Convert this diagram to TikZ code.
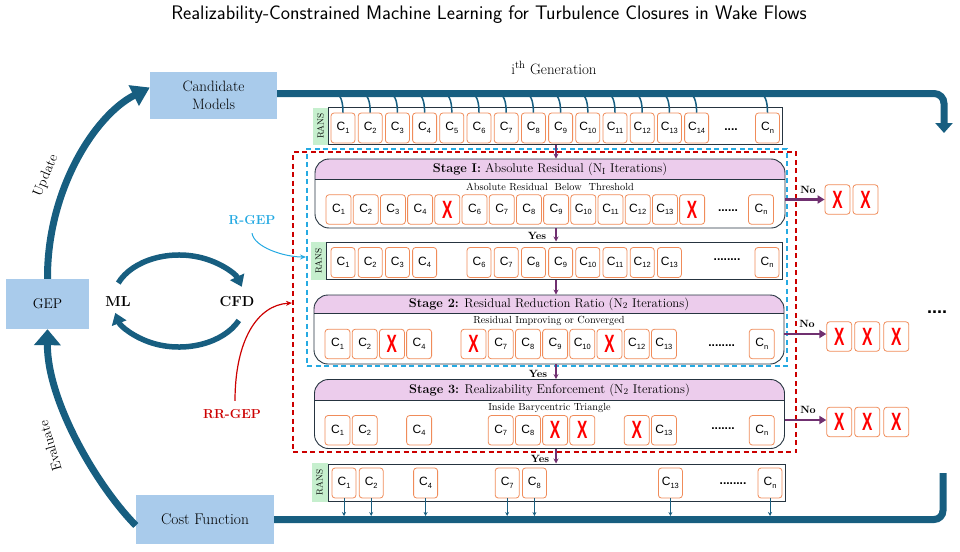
\documentclass[tikz,border=0pt]{standalone}
\usepackage{fontspec}
\usepackage{graphicx}
\newfontfamily\arialf{Liberation Sans}
\usetikzlibrary{arrows.meta,calc}
\definecolor{mteal}{RGB}{23,94,128}
\definecolor{lblue}{RGB}{169,203,235}
\definecolor{hdr}{RGB}{236,204,236}
\definecolor{corg}{RGB}{240,140,90}
\definecolor{rgreen}{RGB}{198,239,206}
\definecolor{purp}{RGB}{112,48,112}
\definecolor{bdash}{RGB}{38,170,226}
\definecolor{rdash}{RGB}{204,0,0}
\definecolor{sdark}{RGB}{38,52,64}
\newcommand\cl[1]{C\raisebox{-2.5pt}{\fontsize{7.5}{7.5}\selectfont #1}}
\newcommand\xm{{\color{red}\arialf\bfseries\fontsize{25}{25}\selectfont\scalebox{0.62}[1]{X}}}
\tikzset{
  cbox/.style={draw=corg, fill=white, line width=0.8pt, rounded corners=3pt, minimum width=24pt, minimum height=30pt, inner sep=0pt, font=\arialf\fontsize{12}{12}\selectfont},
  sbox/.style={cbox, minimum width=25pt, minimum height=29.5pt},
  bluebox/.style={fill=lblue, inner sep=0pt, align=center, font=\fontsize{15}{18}\selectfont},
  frame/.style={draw=sdark, line width=1pt, inner sep=0pt},
  rans/.style={fill=rgreen, inner sep=0pt, rotate=90, font=\fontsize{9}{9}\selectfont},
  stage/.style={draw=sdark, line width=0.9pt, rounded corners=14pt, minimum width=470pt, minimum height=69pt, inner sep=0pt,
    path picture={\fill[hdr, sharp corners] (path picture bounding box.north west) rectangle ([yshift=-#1]path picture bounding box.north east);
      \draw[sdark, line width=0.9pt, sharp corners] ([yshift=-#1]path picture bounding box.north west) -- ([yshift=-#1]path picture bounding box.north east);}},
  stitle/.style={font=\fontsize{12.7}{13}\selectfont, inner sep=0pt},
  ssub/.style={font=\fontsize{10.3}{11}\selectfont, inner sep=0pt},
  tealline/.style={draw=mteal, line width=7pt},
  hook/.style={draw=mteal, line width=1.5pt},
  parr/.style={draw=purp, line width=1.6pt, -{Stealth[length=5pt,width=5pt]}},
  noarr/.style={draw=purp, line width=2.2pt, -{Triangle[length=7pt,width=8pt]}},
  yn/.style={font=\bfseries\fontsize{10.5}{11}\selectfont, inner sep=0pt},
  dots/.style={font=\arialf\bfseries\fontsize{12}{12}\selectfont, inner sep=0pt, anchor=base},
  cycarr/.style={draw=mteal, line width=5.5pt, -{Triangle[width=15pt,length=11pt]}},
  lbl/.style={font=\fontsize{14}{14}\selectfont, inner sep=1pt},
}
\begin{document}
\begin{tikzpicture}[x=1pt,y=-1pt]
\useasboundingbox (0,0) rectangle (960,551);
% title
\node[font=\sffamily\fontsize{19.6}{22}\selectfont] (title) at (489,15) {Realizability-Constrained Machine Learning for Turbulence Closures in Wake Flows};
\node[font=\fontsize{15}{15}\selectfont, inner sep=1pt] (gen) at (554,68) {i\textsuperscript{th} Generation};
% dashed regions
\node[draw=rdash, line width=1.3pt, dash pattern=on 5pt off 3.5pt, minimum width=503pt, minimum height=300pt, inner sep=0pt] (rrg) at (544.5,302) {};
\node[draw=bdash, line width=1.3pt, dash pattern=on 5pt off 3.5pt, minimum width=480pt, minimum height=217pt, inner sep=0pt] (rg) at (547,257.5) {};
% blue boxes
\node[bluebox, minimum width=127pt, minimum height=47pt] (cand) at (213.5,95.5) {Candidate\\Models};
\node[bluebox, minimum width=83pt, minimum height=50pt, font=\fontsize{14}{17}\selectfont] (gep) at (47.5,304) {GEP};
\node[bluebox, minimum width=138pt, minimum height=49pt, font=\fontsize{15.5}{18}\selectfont] (cost) at (205,519.5) {Cost Function};
% main loop lines
\coordinate (tr) at (944,93.5);
\coordinate (trd) at (944,133);
\draw[tealline, rounded corners=10pt, -{Triangle[width=17pt,length=10pt]}] ([yshift=2pt]cand.east) -- (tr) -- (trd);
\coordinate (br) at (943,519.5);
\coordinate (bru) at (943,473);
\draw[tealline, rounded corners=9pt] (cost.east) -- (cost.east -| br) -- (bru);
\draw[tealline, -{Triangle[width=22pt,length=18pt]}] (gep.north) .. controls (47,190) and (95,115) .. ([yshift=8pt]cand.west);
\draw[tealline, -{Triangle[width=26pt,length=16pt]}] ([yshift=-6pt]cost.west) .. controls (96,485) and (47,400) .. (gep.south);
\node[lbl, rotate=67] (upd) at (46,176) {Update};
\node[lbl, rotate=106] (eva) at (50,446) {Evaluate};
% ML / CFD cycle
\node[font=\bfseries\fontsize{14.5}{15}\selectfont] (ml) at (118,302) {ML};
\node[font=\bfseries\fontsize{14.5}{15}\selectfont] (cfd) at (237,302) {CFD};
\coordinate (cyc) at (179,301);
\draw[cycarr] (cyc) ++(-157:66 and 46) arc[start angle=-157, end angle=-18, x radius=66, y radius=46];
\draw[cycarr] (cyc) ++(25:66 and 46) arc[start angle=25, end angle=165, x radius=66, y radius=46];
% R-GEP, RR-GEP
\node[font=\bfseries\fontsize{13}{13}\selectfont, text=bdash] (rgep) at (252,220) {R-GEP};
\coordinate (rgt) at (306,257);
\draw[bdash, line width=1pt, -{Stealth[length=6pt,width=5pt]}] ([yshift=-5pt]rgep.south) .. controls +(2,14) and +(-22,0) .. (rgt);
\node[font=\bfseries\fontsize{13}{13}\selectfont, text=rdash] (rrgep) at (232,414) {RR-GEP};
\coordinate (rrt) at (292,303);
\draw[rdash, line width=1.2pt, -{Stealth[length=6pt,width=5pt]}] ([xshift=3pt,yshift=5pt]rrgep.north) .. controls +(0,-60) and +(-35,2) .. (rrt);
% top RANS row
\node[rans, minimum width=37pt, minimum height=15pt] (tg) at (320.5,126) {RANS};
\node[frame, minimum width=454pt, minimum height=37pt] (tf) at (555,125.5) {};
\foreach \k in {1,...,14} \node[cbox] (t\k) at ({343+(\k-1)*27.2},128) {\cl{\k}};
\node[cbox] (tn) at (767.5,128) {\cl{n}};
\node[dots] (tdots) at (731,130) {....};
\foreach \k in {1,...,14,n} \draw[hook] ($(t\k.north)+(-7,-18)$) .. controls +(6,0) and +(0,-7) .. (t\k.north);
% stage 1
\node[stage=20pt] (s1) at (550,193.5) {};
\node[stitle] (s1t) at (550,169) {\textbf{Stage I:} Absolute Residual (N\textsubscript{I} Iterations)};
\node[ssub] (s1s) at (550,186.5) {Absolute Residual\ \ Below\ \ Threshold};
\foreach \k in {1,2,3,4,6,7,8,9,10,11,12,13} \node[sbox] (a\k) at ({338.5+(\k-1)*27.2},209.5) {\cl{\k}};
\foreach \k in {5,14} \node[sbox] (a\k) at ({338.5+(\k-1)*27.2},209.5) {\xm};
\node[sbox] (an) at (761,209.5) {\cl{n}};
\node[dots] (adots) at (728,211) {......};
% row 2
\node[rans, minimum width=38pt, minimum height=15pt] (rg2) at (318.5,261) {RANS};
\node[frame, minimum width=456pt, minimum height=37.5pt] (rf) at (554,260.75) {};
\foreach \k in {1,2,3,4,6,7,8,9,10,11,12,13} \node[cbox] (r\k) at ({343+(\k-1)*27.2},262.5) {\cl{\k}};
\node[cbox] (rn) at (767,262.5) {\cl{n}};
\node[dots] (rdots) at (727,260.5) {........};
% stage 2
\node[stage=18pt] (s2) at (549,329.5) {};
\node[stitle] (s2t) at (549,304) {\textbf{Stage 2:} Residual Reduction Ratio (N\textsubscript{2} Iterations)};
\node[ssub] (s2s) at (549,320.5) {Residual Improving or Converged};
\foreach \k in {1,2,4,7,8,9,10,12,13} \node[sbox] (b\k) at ({337.5+(\k-1)*27.2},344) {\cl{\k}};
\foreach \k in {3,6,11} \node[sbox] (b\k) at ({337.5+(\k-1)*27.2},344) {\xm};
\node[sbox] (bn) at (761.8,344) {\cl{n}};
\node[dots] (bdots) at (721.7,346) {........};
% stage 3
\node[stage=21pt] (s3) at (549.5,414) {};
\node[stitle] (s3t) at (549.5,390) {\textbf{Stage 3:} Realizability Enforcement (N\textsubscript{2} Iterations)};
\node[ssub] (s3s) at (549.5,408) {Inside Barycentric Triangle};
\foreach \k in {1,2,4,7,8,13} \node[sbox] (c\k) at ({337.5+(\k-1)*27.2},430.3) {\cl{\k}};
\foreach \k in {9,10,12} \node[sbox] (c\k) at ({337.5+(\k-1)*27.2},430.3) {\xm};
\node[sbox] (cn) at (761.8,430.3) {\cl{n}};
\node[dots] (cdots) at (723,429.5) {.......};
% bottom row
\node[rans, minimum width=39pt, minimum height=16pt] (bg) at (319.5,482.5) {RANS};
\node[frame, minimum width=457pt, minimum height=37pt] (bf) at (556.5,482.5) {};
\foreach \k in {1,2,4,7,8,13} \node[cbox] (d\k) at ({344+(\k-1)*27.2},483) {\cl{\k}};
\node[cbox] (dn) at (770,483) {\cl{n}};
\node[dots] (ddots) at (733,484) {........};
\coordinate (cl) at (0,516);
\foreach \k in {1,2,4,7,8,13,n} \draw[mteal, line width=1pt, -{Stealth[length=4pt,width=4pt]}] (d\k.south) -- (d\k.south |- cl);
% yes arrows
\coordinate (sp) at (556,0);
\draw[parr] (tf.south -| sp) -- (s1.north -| sp);
\draw[parr] (s1.south -| sp) -- (rf.north -| sp);
\draw[parr] (rf.south -| sp) -- (s2.north -| sp);
\draw[parr] (s2.south -| sp) -- (s3.north -| sp);
\draw[parr] (s3.south -| sp) -- (bf.north -| sp);
\node[yn] (y1) at (537,236) {Yes};
\node[yn] (y2) at (538,374) {Yes};
\node[yn] (y3) at (540,459) {Yes};
% no branches
\node[sbox] (n11) at (837.5,199.5) {\xm};
\node[sbox] (n12) at (865.5,199.5) {\xm};
\node[sbox] (n21) at (839.2,336.5) {\xm};
\node[sbox] (n22) at (867.2,336.5) {\xm};
\node[sbox] (n23) at (896.3,336.5) {\xm};
\node[sbox] (n31) at (839.2,422) {\xm};
\node[sbox] (n32) at (867.2,422) {\xm};
\node[sbox] (n33) at (896.3,422) {\xm};
\draw[noarr] (s1.east |- n11.west) -- (n11.west);
\draw[noarr] ([yshift=2.5pt]s2.east |- n21.west) -- ([yshift=2.5pt]n21.west);
\draw[noarr] ([yshift=2pt]s3.east |- n31.west) -- ([yshift=2pt]n31.west);
\node[yn] (no1) at (808,190) {No};
\node[yn] (no2) at (807,324) {No};
\node[yn] (no3) at (808,410) {No};
\node[font=\arialf\bfseries\fontsize{18}{18}\selectfont, anchor=base, inner sep=0pt] (rdots2) at (937,313) {....};
\end{tikzpicture}
\end{document}
